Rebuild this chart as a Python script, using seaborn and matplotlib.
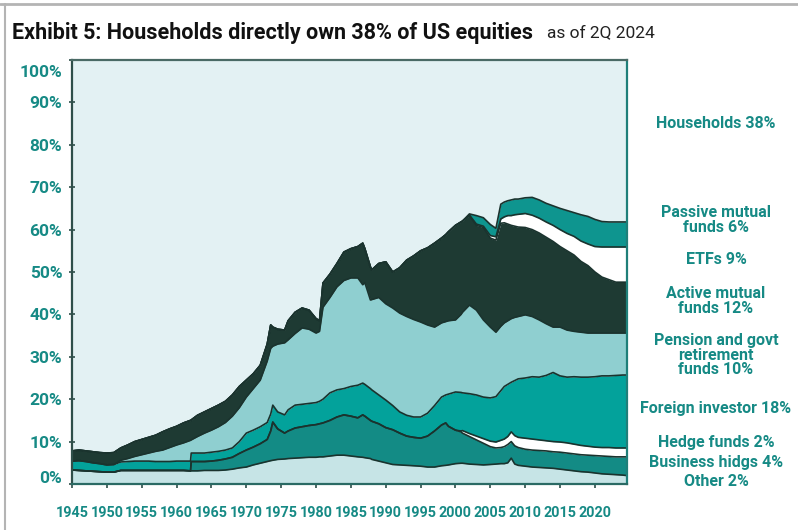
import numpy as np
import pandas as pd
import matplotlib
matplotlib.use("Agg")
import matplotlib.pyplot as plt
import matplotlib.transforms as mtransforms
from matplotlib.lines import Line2D
import seaborn as sns

# ---------------- data (share of US equities, %) ----------------
years = [1945, 1946, 1947, 1948, 1949, 1950, 1951, 1952, 1953, 1954, 1955, 1956, 1957, 1958,
         1959, 1960, 1961, 1962, 1962.1, 1963, 1964, 1965, 1966, 1967, 1968, 1969, 1970, 1971,
         1972, 1973, 1973.5, 1973.8, 1974.5, 1975.5, 1976, 1977, 1978, 1979, 1980, 1980.5, 1981,
         1982, 1983, 1984, 1985, 1986, 1986.7, 1987, 1987.8, 1988, 1989, 1990, 1991, 1992, 1993,
         1994, 1995, 1996, 1997, 1998, 1998.6, 1999, 2000, 2000.8, 2001, 2002, 2003, 2004, 2005,
         2005.8, 2006.5, 2007, 2007.5, 2008, 2008.5, 2009, 2010, 2011, 2012, 2013, 2014, 2015,
         2016, 2017, 2018, 2019, 2020, 2021, 2022, 2023, 2024, 2024.5]

other = [3.3, 3.2, 3.1, 3.0, 2.9, 2.8, 2.8, 3.2, 3.2, 3.2, 3.2, 3.2, 3.2, 3.2,
         3.2, 3.2, 3.2, 3.1, 3.1, 3.1, 3.2, 3.2, 3.2, 3.3, 3.5, 3.8, 4.0, 4.5,
         4.9, 5.3, 5.5, 5.6, 5.8, 5.9, 6.0, 6.1, 6.2, 6.3, 6.3, 6.4, 6.4,
         6.6, 6.8, 6.8, 6.6, 6.4, 6.3, 6.2, 6.0, 5.8, 5.4, 5.0, 4.6, 4.5, 4.4,
         4.3, 4.2, 4.0, 4.0, 4.3, 4.4, 4.5, 4.8, 4.9, 4.9, 4.7, 4.6, 4.5, 4.6,
         4.7, 4.8, 4.8, 5.0, 6.1, 4.7, 4.4, 4.2, 4.0, 3.9, 3.8, 3.7, 3.5,
         3.3, 3.1, 2.9, 2.8, 2.6, 2.4, 2.3, 2.2, 2.1, 2.0]

business = [0, 0, 0, 0, 0, 0, 0, 0, 0, 0, 0, 0, 0, 0,
            0, 0, 0, 0, 2.2, 2.2, 2.1, 2.2, 2.4, 2.6, 2.8, 3.4, 4.0, 4.2,
            4.6, 5.2, 7.0, 9.0, 7.2, 6.1, 6.5, 7.1, 7.3, 7.5, 7.7, 7.8, 8.0,
            8.4, 9.0, 9.5, 9.4, 9.2, 10.0, 9.8, 9.0, 9.0, 8.8, 8.3, 8.2, 7.5, 6.9,
            6.7, 6.6, 7.3, 8.5, 9.6, 10.0, 9.1, 7.9, 7.4, 7.1, 6.5, 5.8, 5.1, 4.2,
            3.8, 3.8, 4.0, 4.3, 3.9, 4.3, 4.2, 4.0, 4.0, 4.0, 4.0, 3.9, 4.0,
            4.0, 4.0, 4.0, 4.0, 4.1, 4.2, 4.2, 4.2, 4.3, 4.4]

hedge = [0, 0, 0, 0, 0, 0, 0, 0, 0, 0, 0, 0, 0, 0,
         0, 0, 0, 0, 0, 0, 0, 0, 0, 0, 0, 0, 0, 0,
         0, 0, 0, 0, 0, 0, 0, 0, 0, 0, 0, 0, 0,
         0, 0, 0, 0, 0, 0, 0, 0, 0, 0, 0, 0, 0, 0,
         0, 0, 0, 0, 0, 0, 0, 0, 0.2, 0.6, 0.7, 0.9, 1.1, 1.3,
         1.4, 1.7, 1.8, 1.9, 2.3, 2.4, 2.4, 2.6, 2.6, 2.5, 2.4, 2.4, 2.4,
         2.4, 2.3, 2.2, 2.1, 2.0, 2.0, 2.1, 2.1, 2.1, 2.1]

foreign = [2.1, 2.3, 2.2, 2.0, 1.9, 1.7, 1.8, 2.0, 2.1, 2.2, 2.2, 2.2, 2.1, 2.1,
           2.1, 2.2, 2.2, 2.3, 2.0, 2.0, 2.0, 2.1, 2.1, 2.1, 2.2, 2.8, 4.0, 4.0,
           4.0, 4.0, 4.0, 4.0, 4.0, 4.3, 5.0, 5.4, 5.3, 5.2, 5.2, 5.3, 5.6,
           6.5, 6.4, 6.2, 7.0, 7.7, 7.5, 7.5, 7.5, 7.4, 6.8, 6.5, 5.7, 5.0, 4.9,
           4.8, 5.0, 5.4, 6.0, 6.6, 6.6, 7.6, 9.0, 9.1, 8.9, 9.4, 9.7, 9.8, 10.2,
           10.7, 11.7, 12.4, 12.3, 11.7, 13.0, 13.8, 14.2, 14.7, 14.8, 15.4, 16.3, 15.6,
           15.5, 15.9, 16.1, 16.3, 16.6, 16.9, 16.9, 17.1, 17.2, 17.2]

pension = [0, 0, 0, 0, 0, 0, 0, 0.4, 0.7, 1.1, 1.5, 1.9, 2.4, 2.7,
           3.3, 3.8, 4.3, 4.9, 3.1, 3.9, 4.7, 5.2, 5.8, 6.5, 7.5, 8.0, 8.5, 9.8,
           11.0, 14.5, 15.5, 13.9, 16.0, 17.0, 16.5, 16.9, 18.0, 17.5, 16.4, 16.5, 21.7,
           22.5, 24.3, 25.5, 25.6, 25.3, 23.2, 24.0, 20.9, 21.3, 23.0, 22.7, 23.0, 23.3, 23.3,
           23.0, 22.4, 20.8, 18.5, 17.5, 17.3, 17.3, 17.0, 18.4, 19.0, 20.9, 20.0, 18.2, 16.7,
           15.2, 15.2, 15.0, 15.0, 15.0, 14.9, 14.7, 14.9, 14.2, 13.5, 12.2, 10.7, 11.5,
           11.1, 10.7, 10.6, 10.4, 10.3, 10.1, 10.1, 10.0, 9.9, 9.9]

active = [2.4, 2.5, 2.5, 2.6, 2.6, 2.8, 2.8, 2.9, 3.2, 3.5, 3.6, 3.7, 3.8, 4.3,
          4.4, 4.4, 4.7, 4.7, 4.7, 5.0, 5.0, 5.1, 5.1, 5.0, 5.0, 5.0, 4.0, 3.5,
          3.5, 4.0, 5.5, 4.5, 3.5, 3.0, 4.5, 5.0, 4.7, 4.5, 3.4, 2.5, 5.7,
          5.5, 5.5, 6.7, 6.9, 7.4, 9.8, 8.0, 7.8, 7.0, 8.0, 9.9, 8.5, 10.7, 13.3,
          15.0, 16.8, 18.2, 19.8, 20.0, 20.5, 21.0, 22.3, 21.8, 21.5, 21.2, 20.0, 21.8, 21.0,
          21.7, 24.3, 23.6, 22.8, 22.0, 21.5, 21.1, 20.6, 20.5, 20.5, 20.4, 20.2, 19.0,
          18.7, 18.0, 16.7, 15.9, 14.4, 13.2, 12.6, 12.0, 12.0, 12.0]

etfs = [0, 0, 0, 0, 0, 0, 0, 0, 0, 0, 0, 0, 0, 0,
        0, 0, 0, 0, 0, 0, 0, 0, 0, 0, 0, 0, 0, 0,
        0, 0, 0, 0, 0, 0, 0, 0, 0, 0, 0, 0, 0,
        0, 0, 0, 0, 0, 0, 0, 0, 0, 0, 0, 0, 0, 0,
        0, 0, 0, 0, 0, 0, 0, 0, 0, 0, 0, 0.3, 0.3, 0.6,
        0.8, 1.0, 1.4, 2.0, 2.3, 2.7, 3.0, 3.3, 3.4, 3.5, 3.6, 3.8, 4.0,
        4.1, 4.4, 4.8, 5.1, 6.0, 7.1, 7.7, 8.3, 8.3, 8.3]

passive = [0, 0, 0, 0, 0, 0, 0, 0, 0, 0, 0, 0, 0, 0,
           0, 0, 0, 0, 0, 0, 0, 0, 0, 0, 0, 0, 0, 0,
           0, 0, 0, 0, 0, 0, 0, 0, 0, 0, 0, 0, 0,
           0, 0, 0, 0, 0, 0, 0, 0, 0, 0, 0, 0, 0, 0,
           0, 0, 0, 0, 0, 0, 0, 0, 0, 0, 0.3, 2.0, 2.0, 2.6,
           2.0, 3.5, 3.5, 3.5, 3.7, 3.7, 3.6, 3.7, 4.2, 4.3, 4.4, 4.6, 5.0,
           5.4, 5.6, 6.2, 6.5, 6.4, 6.0, 5.9, 5.9, 5.9, 5.9]

layer_names = ["Other", "Business hldgs", "Hedge funds", "Foreign investor",
               "Pension and govt", "Active mutual funds", "ETFs", "Passive mutual funds"]
layer_values = [other, business, hedge, foreign, pension, active, etfs, passive]

x_ticks = list(range(1945, 2021, 5))
y_ticks = list(range(0, 101, 10))
y_tick_labels = [f"{v}%" for v in y_ticks]

title = "Exhibit 5: Households directly own 38% of US equities"
subtitle = "as of 2Q 2024"

right_labels = ["Households 38%", "Passive mutual\nfunds 6%", "ETFs 9%",
                "Active mutual\nfunds 12%", "Pension and govt\nretirement\nfunds 10%",
                "Foreign investor 18%", "Hedge funds 2%", "Business hidgs 4%", "Other 2%"]
right_label_y = [123, 220, 260, 301, 355, 408, 443, 462, 481]   # pixel rows

# ---------------- style ----------------
households_color = "#e3f1f3"
layer_colors = ["#c6e4e6", "#138b85", "#ffffff", "#03a29b",
                "#8fcfd0", "#1e3a33", "#ffffff", "#0e958f"]
edge_color = "#1a332e"
teal_text = "#168a85"

sns.set_theme(style="white")
plt.rcParams["font.family"] = ["Roboto", "DejaVu Sans"]

W, H = 798, 530
fig = plt.figure(figsize=(W / 100, H / 100), dpi=100)
fig.patch.set_facecolor("white")
ax = fig.add_axes([72 / W, 1 - 484 / H, (627 - 72) / W, (484 - 60) / H])
ax.set_facecolor(households_color)

df = pd.DataFrame({"year": years})
for name, vals in zip(layer_names, layer_values):
    df[name] = vals
cum = df[layer_names].cumsum(axis=1)

lower = np.zeros(len(df))
for name, color in zip(layer_names, layer_colors):
    upper = cum[name].to_numpy()
    ax.fill_between(df["year"], lower, upper, color=color, lw=0, zorder=1)
    lower = upper

for name in layer_names:
    sns.lineplot(x=df["year"].to_numpy(), y=cum[name].to_numpy(), ax=ax, color=edge_color,
                 lw=1.2, legend=False, sort=False, estimator=None, zorder=2)

ax.set_xlim(1945, 2024.6)
ax.set_ylim(0, 100)
ax.set_xlabel("")
ax.set_ylabel("")
ax.grid(False)

ax.set_xticks(x_ticks)
ax.set_xticklabels([str(v) for v in x_ticks])
ax.set_yticks(y_ticks)
ax.set_yticklabels(y_tick_labels)
ax.tick_params(axis="x", direction="out", length=3, width=1.2, color="#2f4f4a", pad=13,
               labelsize=10.4, labelcolor=teal_text, bottom=True)
ax.tick_params(axis="y", direction="inout", length=4, width=1.2, color="#2f4f4a", pad=5,
               labelsize=12.5, labelcolor=teal_text, left=True)
for lab in ax.get_xticklabels() + ax.get_yticklabels():
    lab.set_fontweight("bold")

# nudge 0% / 100% labels inward as in the original
for lab in ax.get_yticklabels():
    if lab.get_text() == "100%":
        lab.set_transform(lab.get_transform() +
                          mtransforms.ScaledTranslation(0, -11 / 100, fig.dpi_scale_trans))
    elif lab.get_text() == "0%":
        lab.set_transform(lab.get_transform() +
                          mtransforms.ScaledTranslation(0, 7 / 100, fig.dpi_scale_trans))

for side, col in [("left", "#2f4f4a"), ("top", "#4a6a65"), ("right", "#1f7f79"), ("bottom", "#2a6a64")]:
    ax.spines[side].set_visible(True)
    ax.spines[side].set_color(col)
    ax.spines[side].set_linewidth(1.6)

# ---------------- texts ----------------
t1 = fig.text(12 / W, 1 - 33 / H, title, fontsize=15.5, fontweight="bold",
              color="#111111", va="center", ha="left")
fig.canvas.draw()
bb = t1.get_window_extent(renderer=fig.canvas.get_renderer())
fig.text((bb.x1 + 14) / W, 1 - 33 / H, subtitle, fontsize=12.5, color="#222222",
         va="center", ha="left")

for txt, yp in zip(right_labels, right_label_y):
    fig.text(716 / W, 1 - yp / H, txt, fontsize=11.5, fontweight="bold", color=teal_text,
             ha="center", va="center", linespacing=0.95)

# thin frame lines of the exhibit box
fig.add_artist(Line2D([0, 1], [1 - 4 / H, 1 - 4 / H], transform=fig.transFigure,
                      color="#b4b4b4", lw=2))
fig.add_artist(Line2D([5 / W, 5 / W], [0, 1 - 4 / H], transform=fig.transFigure,
                      color="#b4b4b4", lw=1.5))

fig.savefig("out.png", dpi=100)
